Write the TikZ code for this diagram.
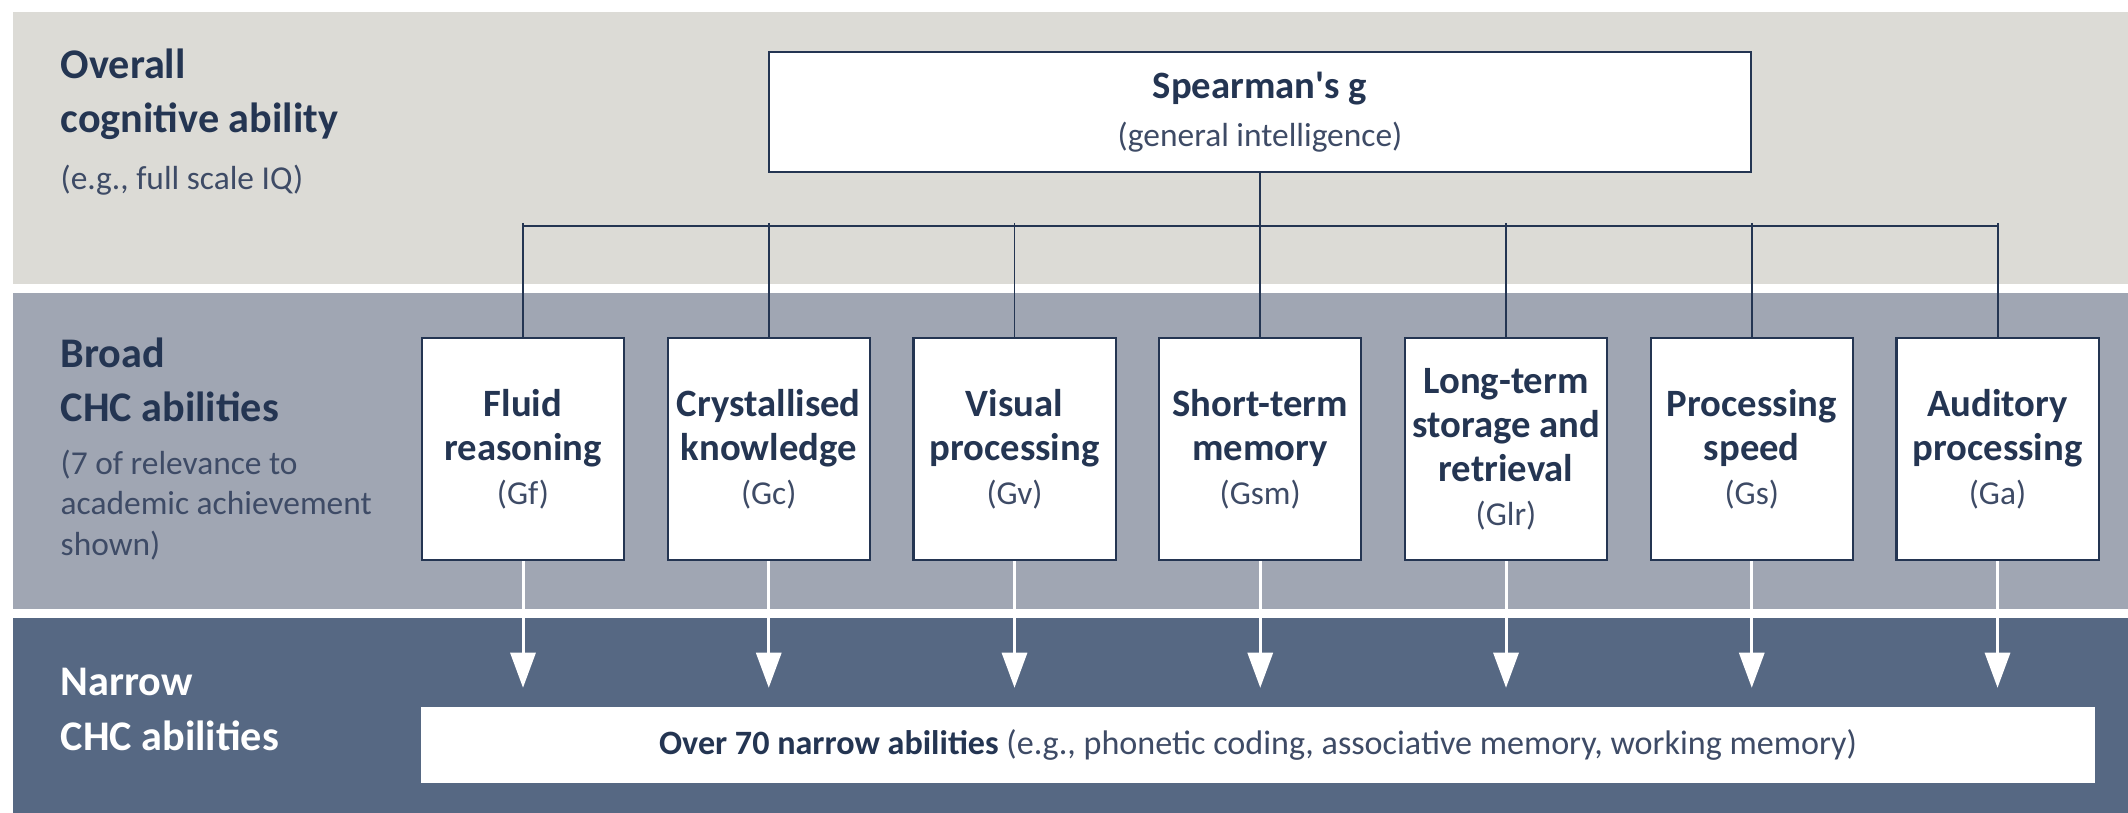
\documentclass[tikz,border=0pt]{standalone}
\usepackage{fontspec}
\setmainfont{Carlito}
\usetikzlibrary{arrows.meta, positioning}

\definecolor{navy}{HTML}{243552}
\definecolor{notegrey}{HTML}{3E4B66}
\definecolor{bandtop}{HTML}{DCDBD6}
\definecolor{bandmid}{HTML}{A0A6B3}
\definecolor{bandlow}{HTML}{566883}

\tikzset{
  ability/.style={draw=navy, line width=0.6pt, fill=white, text=navy,
    minimum width=2.02cm, minimum height=2.22cm, inner sep=0pt, align=center,
    font=\fontsize{11}{12.5}\selectfont\bfseries},
  level/.style={anchor=base west, inner sep=0pt, align=left, text=navy,
    font=\fontsize{12}{15.6}\selectfont\bfseries},
  note/.style={anchor=base west, inner sep=0pt, align=left, text=notegrey,
    font=\fontsize{9.5}{11.4}\selectfont},
  link/.style={draw=navy, line width=0.55pt},
  flow/.style={draw=white, line width=0.85pt,
    -{Triangle[length=0.35cm, width=0.25cm]}, shorten >=0.19cm},
}
\newcommand{\abbr}[1]{\par{\mdseries\fontsize{9.5}{12.5}\selectfont\color{notegrey}(#1)}}

\begin{document}
\begin{tikzpicture}[x=0.01cm, y=-0.01cm, node distance=0.415cm]
  \useasboundingbox (0,0) rectangle (2128,813);

  % the three levels
  \fill[bandtop] (13,12) rectangle (2128,284);
  \fill[bandmid] (13,293) rectangle (2128,609);
  \fill[bandlow] (13,618) rectangle (2128,813);

  % multi-line labels sit on the baseline of their last line
  \node[level] (lvlg) at (60,133) {Overall\\cognitive ability};
  \node[note] (lvlgnote) at (60,190) {(e.g., full scale IQ)};
  \node[level] (lvlbroad) at (60,422) {Broad\\CHC abilities};
  \node[note] (lvlbroadnote) at (60,555) {(7 of relevance to\\academic achievement\\shown)};
  \node[level, text=white] (lvlnarrow) at (60,750) {Narrow\\CHC abilities};

  % g at the top
  \node[draw=navy, line width=0.6pt, fill=white, text=navy, align=center,
    minimum width=9.82cm, minimum height=1.2cm, inner sep=0pt,
    font=\fontsize{11}{13.7}\selectfont\bfseries] (g) at (1260,112)
    {Spearman\textquotesingle s g\\{\mdseries\fontsize{9.5}{13.7}\selectfont\color{notegrey}(general intelligence)}};

  % broad abilities
  \node[ability] (gf) at (523,449) {Fluid\\reasoning\\\abbr{Gf}};
  \node[ability, right=of gf] (gc) {Crystallised\\knowledge\\\abbr{Gc}};
  \node[ability, right=of gc] (gv) {Visual\\processing\\\abbr{Gv}};
  \node[ability, right=of gv] (gsm) {Short-term\\memory\\\abbr{Gsm}};
  \node[ability, right=of gsm] (glr) {Long-term\\storage and\\retrieval\\\abbr{Glr}};
  \node[ability, right=of glr] (gs) {Processing\\speed\\\abbr{Gs}};
  \node[ability, right=of gs] (ga) {Auditory\\processing\\\abbr{Ga}};

  % narrow abilities
  \node[fill=white, text=navy, minimum width=16.73cm, minimum height=0.75cm,
    inner sep=0pt, font=\fontsize{9.7}{12}\selectfont] (narrow) at (1258,745)
    {\textbf{Over 70 narrow abilities} {\color{notegrey}(e.g., phonetic coding, associative memory, working memory)}};

  % tree from g to the broad abilities
  \coordinate (bus) at (1260,226);
  \draw[link, line width=0.75pt] (gf.north |- bus) -- (ga.north |- bus);
  \draw[link] (g.south) -- (g.south |- bus);
  \draw[link, shorten <=-0.03cm] (gf.north |- bus) -- (gf.north);
  \draw[link, shorten <=-0.03cm] (gc.north |- bus) -- (gc.north);
  \draw[link, shorten <=-0.03cm] (gv.north |- bus) -- (gv.north);
  \draw[link, shorten <=-0.03cm] (gsm.north |- bus) -- (gsm.north);
  \draw[link, shorten <=-0.03cm] (glr.north |- bus) -- (glr.north);
  \draw[link, shorten <=-0.03cm] (gs.north |- bus) -- (gs.north);
  \draw[link, shorten <=-0.03cm] (ga.north |- bus) -- (ga.north);

  % each broad ability feeds the narrow ones
  \draw[flow] (gf.south) -- (gf.south |- narrow.north);
  \draw[flow] (gc.south) -- (gc.south |- narrow.north);
  \draw[flow] (gv.south) -- (gv.south |- narrow.north);
  \draw[flow] (gsm.south) -- (gsm.south |- narrow.north);
  \draw[flow] (glr.south) -- (glr.south |- narrow.north);
  \draw[flow] (gs.south) -- (gs.south |- narrow.north);
  \draw[flow] (ga.south) -- (ga.south |- narrow.north);
\end{tikzpicture}
\end{document}
